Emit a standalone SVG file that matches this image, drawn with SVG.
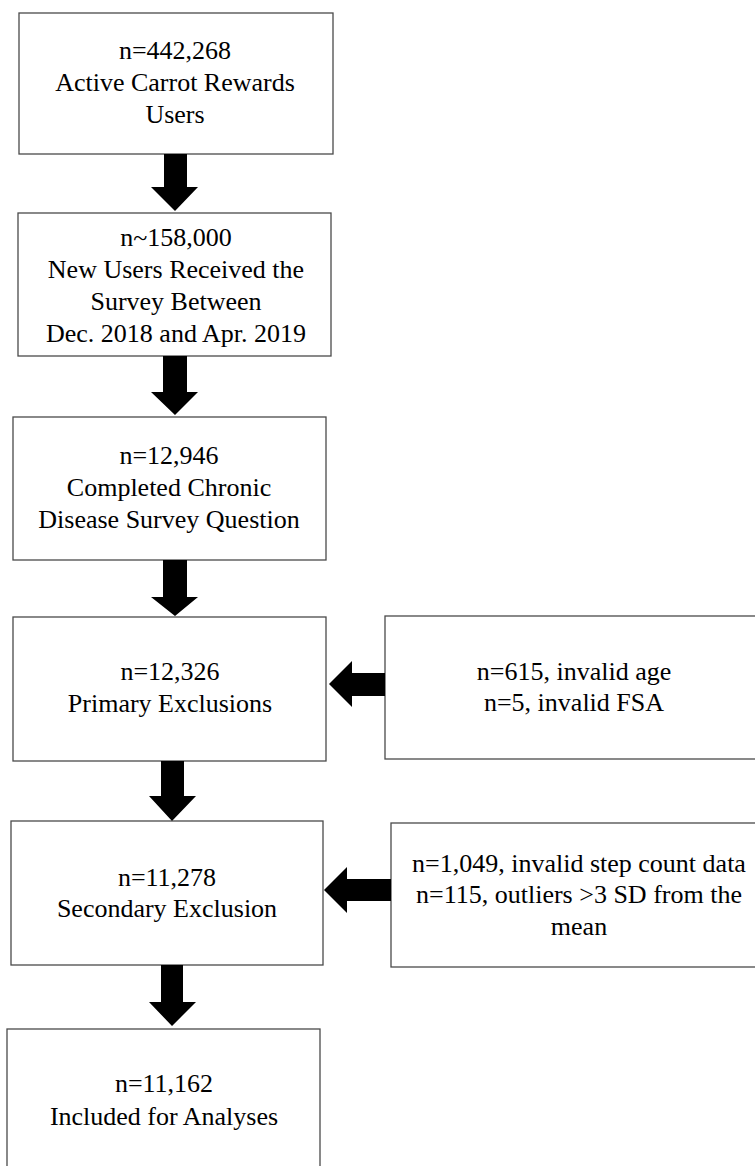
<svg xmlns="http://www.w3.org/2000/svg" width="755" height="1166" viewBox="0 0 755 1166">
<style>
.box{fill:#fff;stroke:#4a4a4a;stroke-width:1.3}
.t{font-family:'Liberation Serif','Times New Roman',Tinos,'DejaVu Serif',serif;font-size:26px;fill:#000;text-anchor:middle}
.arr{fill:#000}
</style>
<rect width="755" height="1166" fill="#fff"/>
<g id="n1"><rect class="box" x="19" y="13" width="314" height="141"/>
<text class="t" x="175" y="59">n=442,268</text><text class="t" x="175" y="91">Active Carrot Rewards</text><text class="t" x="175" y="123">Users</text></g>
<g id="n2"><rect class="box" x="18" y="213" width="313" height="143"/>
<text class="t" x="176" y="246">n~158,000</text><text class="t" x="176" y="278">New Users Received the</text><text class="t" x="176" y="310">Survey Between</text><text class="t" x="176" y="342">Dec. 2018 and Apr. 2019</text></g>
<g id="n3"><rect class="box" x="13" y="417" width="313" height="143"/>
<text class="t" x="169" y="464">n=12,946</text><text class="t" x="169" y="496">Completed Chronic</text><text class="t" x="169" y="528">Disease Survey Question</text></g>
<g id="n4"><rect class="box" x="13" y="617" width="313" height="144"/>
<text class="t" x="170" y="680">n=12,326</text><text class="t" x="170" y="712">Primary Exclusions</text></g>
<g id="x4"><rect class="box" x="385" y="616" width="380" height="143"/>
<text class="t" x="574" y="680">n=615, invalid age</text><text class="t" x="574" y="711">n=5, invalid FSA</text></g>
<g id="n5"><rect class="box" x="11" y="821" width="312" height="144"/>
<text class="t" x="167" y="886">n=11,278</text><text class="t" x="167" y="917">Secondary Exclusion</text></g>
<g id="x5"><rect class="box" x="391" y="823" width="380" height="144"/>
<text class="t" x="579" y="872">n=1,049, invalid step count data</text><text class="t" x="579" y="903">n=115, outliers &gt;3 SD from the</text><text class="t" x="579" y="935">mean</text></g>
<g id="n6"><rect class="box" x="7" y="1029" width="313" height="150"/>
<text class="t" x="164" y="1092">n=11,162</text><text class="t" x="164" y="1125">Included for Analyses</text></g>
<g id="connectors">
<polygon class="arr" points="164,154 187,154 187,187 198,187 175,211 151,187 164,187"/>
<polygon class="arr" points="163,356 187,356 187,392 198,392 175,415 151,392 163,392"/>
<polygon class="arr" points="163,560 187,560 187,597 198,597 175,616 151,597 163,597"/>
<polygon class="arr" points="385,673 385,696 352,696 352,707 329,684 352,661 352,673"/>
<polygon class="arr" points="161,761 184,761 184,796 196,796 172,821 149,796 161,796"/>
<polygon class="arr" points="391,879 391,901 347,901 347,913 324,890 347,867 347,879"/>
<polygon class="arr" points="161,965 183,965 183,1002 196,1002 172,1026 149,1002 161,1002"/>
</g>
</svg>
